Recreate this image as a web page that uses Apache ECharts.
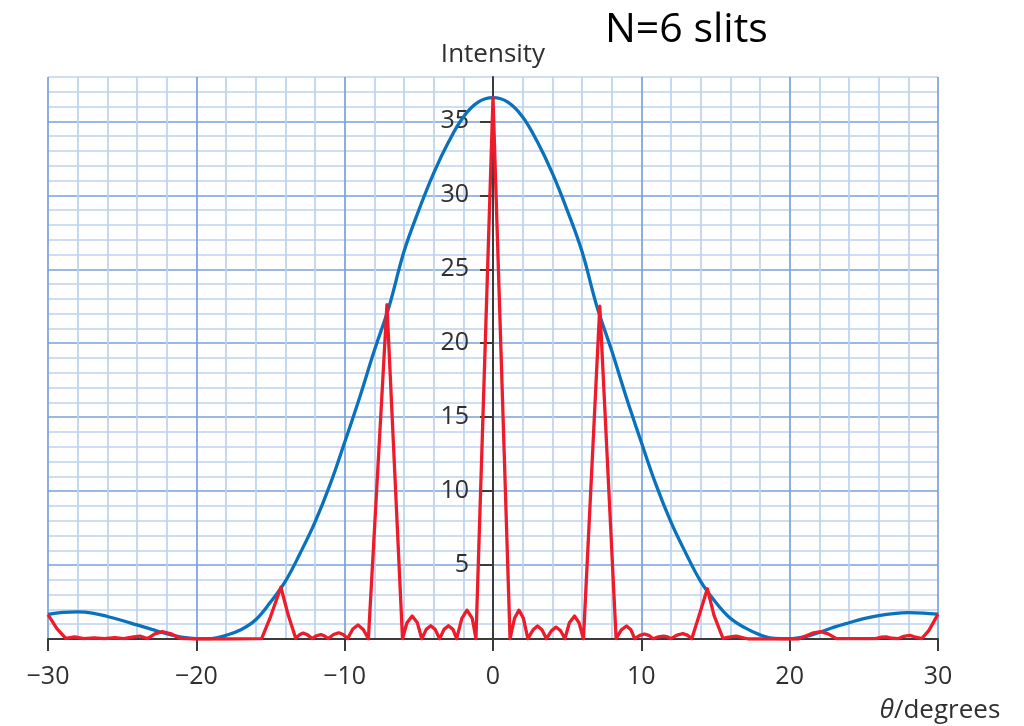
<!DOCTYPE html>
<html>
<head>
<meta charset="utf-8">
<script src="https://cdn.jsdelivr.net/npm/echarts@6/dist/echarts.min.js"></script>
<style>
html,body{margin:0;padding:0;background:#fff;}
#chart{width:1024px;height:726px;}
</style>
</head>
<body>
<div id="chart"></div>
<script>
// ---- data ----
const chartTitle = 'N=6 slits';
const xTickLabels = [-30, -20, -10, 0, 10, 20, 30];
const yTickLabels = [5, 10, 15, 20, 25, 30, 35];

// single-slit envelope (blue)
const blueX = [-30,-29,-28,-27,-26,-25,-24,-23,-22,-21,-20,-19,-18,-17,-16,-15,-14,-13,-12,-11,-10,-9,-8,-7,-6,-5,-4,-3,-2,-1,
  0,1,2,3,4,5,6,7,8,9,10,11,12,13,14,15,16,17,18,19,20,21,22,23,24,25,26,27,28,29,30];
const blueY = [1.67,1.8,1.83,1.75,1.52,1.25,0.95,0.65,0.36,0.12,0.02,0.03,0.25,0.62,1.3,2.5,3.9,5.8,7.9,10.4,13.3,16.3,19.5,22.5,26.2,29.0,31.5,33.6,35.3,36.3,
  36.6,36.3,35.3,33.6,31.5,29.0,26.2,22.5,19.5,16.3,13.3,10.4,7.9,5.8,3.9,2.5,1.4,0.75,0.28,0.04,0.02,0.15,0.45,0.8,1.1,1.38,1.58,1.72,1.78,1.75,1.68];

// six-slit pattern (red)
const redX = [-30,-29.4,-28.8,-28.2,-27.6,-26.9,-26.2,-25.5,-24.9,-24.2,-23.8,-23.3,-22.8,-22.3,-21.7,-21.1,-20,-18,-15.6,-15.0,-14.3,-13.8,-13.3,
  -13.05,-12.8,-12.5,-12.2,-11.9,-11.6,-11.35,-11.1,-10.75,-10.4,-10.1,-9.8,-9.45,-9.1,-8.75,-8.4,
  -7.15,-6.1,-5.8,-5.45,-5.1,-4.8,-4.5,-4.2,-3.9,-3.6,-3.3,-3.0,-2.7,-2.45,-2.1,-1.75,-1.4,-1.15,
  0,
  1.15,1.45,1.75,2.05,2.35,2.7,3.0,3.3,3.6,3.95,4.25,4.55,4.85,5.15,5.5,5.8,6.1,
  7.2,8.3,8.65,9.0,9.3,9.55,9.9,10.2,10.5,10.8,11.15,11.5,11.75,12.0,12.4,12.8,13.1,13.4,
  13.9,14.45,14.9,15.5,16.0,16.4,16.8,17.2,20.6,21.2,21.6,22.1,22.6,23.15,25.8,
  26.2,26.5,26.9,27.3,27.7,28.1,28.5,28.9,29.4,30];
const redY = [1.65,0.7,0.05,0.15,0.03,0.08,0.02,0.1,0.02,0.15,0.2,0.03,0.35,0.5,0.35,0.05,0,0,0.02,1.5,3.5,1.6,0.05,
  0.28,0.4,0.28,0.03,0.22,0.3,0.2,0.03,0.3,0.42,0.3,0.03,0.68,0.95,0.65,0.02,
  22.6,0.02,1.1,1.55,1.1,0.02,0.65,0.9,0.65,0.02,0.65,0.9,0.65,0.02,1.4,1.95,1.4,0.02,
  36.6,
  0.02,1.4,1.95,1.4,0.02,0.62,0.88,0.62,0.02,0.57,0.8,0.57,0.02,1.1,1.55,1.1,0.02,
  22.5,0.02,0.62,0.88,0.62,0.02,0.25,0.34,0.25,0.02,0.15,0.2,0.15,0.02,0.26,0.36,0.26,0.02,
  1.6,3.4,1.6,0.05,0.15,0.2,0.1,0,0,0.25,0.42,0.5,0.35,0.03,0.02,
  0.12,0.15,0.05,0.02,0.18,0.25,0.12,0.02,0.6,1.68];

// ---- chart ----
const FONT = '"Open Sans", "DejaVu Sans", sans-serif';
const TXT = '#2f2f2f';
const AX = '#3b3b3b';
const MAJOR = '#77a2da';
const MINOR = '#bcd2ef';
const GRID_LEFT = 48;

const zip = (xs, ys) => xs.map((x, i) => [x, ys[i]]);
const fmt = v => v < 0 ? '\u2212' + Math.abs(v) : String(v);
const hidden = {show: false};

const chart = echarts.init(document.getElementById('chart'), null, {renderer: 'canvas'});
chart.setOption({
  animation: false,
  backgroundColor: '#fff',
  title: {
    text: chartTitle,
    left: 600, top: 5,
    textStyle: {fontFamily: FONT, fontSize: 41, fontWeight: 'normal', color: '#000'}
  },
  grid: {left: GRID_LEFT, right: 86, top: 77, bottom: 87, containLabel: false, outerBoundsMode: 'none'},
  xAxis: [
    {
      type: 'value', min: -30, max: 30, interval: 10, position: 'bottom',
      axisLine: {show: true, onZero: false, lineStyle: {color: AX, width: 2}},
      axisTick: {show: true, length: 12, lineStyle: {color: AX, width: 2}},
      axisLabel: {formatter: fmt, fontFamily: FONT, fontSize: 25, color: TXT, margin: 25},
      splitLine: hidden,
      name: '{i|\u03b8}/degrees',
      nameLocation: 'end', nameGap: 2,
      nameTextStyle: {
        fontFamily: FONT, fontSize: 26, color: TXT, align: 'center', verticalAlign: 'top',
        padding: [59, 0, 0, 0],
        rich: {i: {fontFamily: FONT, fontSize: 26, fontStyle: 'italic', color: TXT}}
      },
      z: 5
    },
    {
      // fine grid (every 2 degrees, darker every 10)
      type: 'value', min: -30, max: 30, interval: 2, position: 'top',
      axisLine: hidden, axisTick: hidden, axisLabel: hidden,
      splitLine: {show: true, lineStyle: {color: [MAJOR, MINOR, MINOR, MINOR, MINOR], width: 1.7}}
    }
  ],
  yAxis: [
    {
      type: 'value', min: 0, max: 38, interval: 5, position: 'left', offset: 0,
      axisLine: {show: true, onZero: false, lineStyle: {color: AX, width: 2}},
      axisTick: {show: true, length: 13, customValues: yTickLabels, lineStyle: {color: AX, width: 2}},
      axisLabel: {customValues: yTickLabels, fontFamily: FONT, fontSize: 25, color: TXT, margin: 24},
      splitLine: hidden,
      name: 'Intensity',
      nameLocation: 'end', nameGap: 9,
      nameTextStyle: {fontFamily: FONT, fontSize: 26, color: TXT, align: 'center'},
      z: 5
    },
    {
      // fine grid (every 1 unit, darker every 5)
      type: 'value', min: 0, max: 38, interval: 1, position: 'right',
      axisLine: hidden, axisTick: hidden, axisLabel: hidden,
      splitLine: {show: true, lineStyle: {color: [MAJOR, MINOR, MINOR, MINOR, MINOR], width: 1.7}}
    }
  ],
  series: [
    {
      name: 'envelope', type: 'line', data: zip(blueX, blueY),
      xAxisIndex: 0, yAxisIndex: 0,
      smooth: 0.4, showSymbol: false, symbol: 'none',
      lineStyle: {color: '#0a72bb', width: 3.3}, z: 6
    },
    {
      name: 'N=6', type: 'line', data: zip(redX, redY),
      xAxisIndex: 0, yAxisIndex: 0,
      smooth: false, showSymbol: false, symbol: 'none',
      lineStyle: {color: '#ee1c2b', width: 3.3, join: 'round'}, z: 7
    }
  ]
});

// place the intensity axis (line, ticks, labels, name) at theta = 0
function placeYAxis() {
  const zeroPx = chart.convertToPixel({xAxisIndex: 0}, 0);
  const leftPx = chart.convertToPixel({xAxisIndex: 0}, -30);
  chart.setOption({yAxis: [{offset: -(zeroPx - leftPx)}, {}]});
}
placeYAxis();
placeYAxis();
</script>
</body>
</html>
